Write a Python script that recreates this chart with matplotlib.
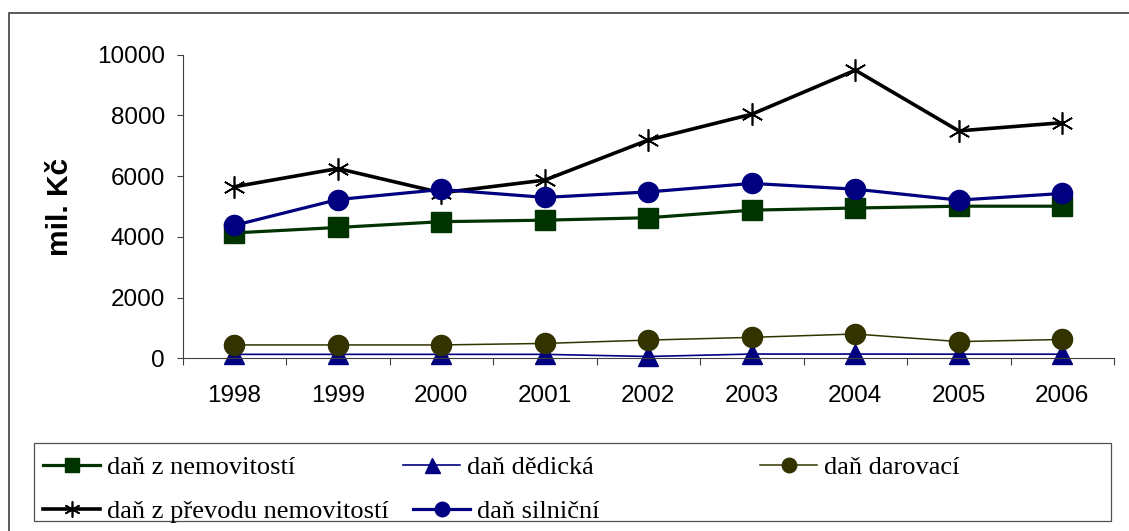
import matplotlib
matplotlib.use("Agg")
import matplotlib.pyplot as plt
from matplotlib.patches import Rectangle
from matplotlib.ticker import FixedLocator, NullFormatter, FixedFormatter

# Tax revenues in millions CZK
years = ["1998", "1999", "2000", "2001", "2002", "2003", "2004", "2005", "2006"]
dan_z_nemovitosti = [4130, 4310, 4500, 4550, 4630, 4880, 4950, 5010, 5010]
dan_dedicka = [130, 130, 130, 130, 60, 140, 140, 135, 135]
dan_darovaci = [440, 440, 440, 490, 600, 690, 800, 550, 620]
dan_z_prevodu = [5650, 6250, 5450, 5870, 7190, 8040, 9490, 7490, 7760]
dan_silnicni = [4380, 5230, 5560, 5300, 5480, 5760, 5570, 5210, 5430]

labels = ["daň z nemovitostí", "daň dědická", "daň darovací",
          "daň z převodu nemovitostí", "daň silniční"]

W, H = 1129, 531
fig = plt.figure(figsize=(W / 100, H / 100), dpi=100)
ax = fig.add_axes([182.7 / W, 1 - 358.3 / H, (1114 - 182.7) / W, (358.3 - 54.7) / H])

x = list(range(len(years)))
common = dict(clip_on=False)
series = [
    (dan_z_nemovitosti, dict(color="#003300", lw=2.3, marker="s", ms=14,
                             mfc="#003300", mec="#003300")),
    (dan_dedicka, dict(color="#000080", lw=1.2, marker="^", ms=15,
                       mfc="#000080", mec="#000080")),
    (dan_darovaci, dict(color="#333300", lw=1.1, marker="o", ms=14.5,
                        mfc="#333300", mec="#333300")),
    (dan_z_prevodu, dict(color="black", lw=2.6, marker=(6, 2, 0), ms=16,
                         mec="black", mew=1.2)),
    (dan_silnicni, dict(color="#000080", lw=2.3, marker="o", ms=14.5,
                        mfc="#000080", mec="#000080")),
]
handles = []
for (vals, style), lab in zip(series, labels):
    (h,) = ax.plot(x, vals, label=lab, **style, **common)
    handles.append(h)

ax.set_xlim(-0.5, len(years) - 0.5)
ax.set_ylim(0, 10000)
ax.set_yticks(range(0, 10001, 2000))

# category boundaries carry the tick marks, centres carry the labels
ax.xaxis.set_major_locator(FixedLocator([i - 0.5 for i in range(len(years) + 1)]))
ax.xaxis.set_major_formatter(NullFormatter())
ax.xaxis.set_minor_locator(FixedLocator(x))
ax.xaxis.set_minor_formatter(FixedFormatter(years))

for lab in ax.get_yticklabels() + ax.get_xticklabels(minor=True):
    lab.set_fontfamily("Liberation Sans")
    lab.set_fontsize(17.5)

ax.tick_params(axis="y", which="major", direction="out", length=4.3, width=0.8,
               color="#404040", pad=8.6)
ax.tick_params(axis="x", which="major", direction="out", length=5, width=0.8,
               color="#404040")
ax.tick_params(axis="x", which="minor", length=0, pad=19)

for side in ("top", "right"):
    ax.spines[side].set_visible(False)
for side in ("left", "bottom"):
    ax.spines[side].set_color("#404040")
    ax.spines[side].set_linewidth(0.8)

fig.text(60 / W, 1 - 207 / H, "mil. Kč", rotation=90, ha="center", va="center",
         fontfamily="Liberation Sans", fontweight="bold", fontsize=21.5)

# outer chart border
fig.add_artist(Rectangle((8.5 / W, -0.05), 1.2, 1 - 13 / H + 0.05,
                         transform=fig.transFigure, fill=False,
                         edgecolor="#404040", lw=1.2))

# legend frame
fig.add_artist(Rectangle((34 / W, 1 - 521 / H), (1111 - 34) / W, (521 - 443) / H,
                         transform=fig.transFigure, fill=False,
                         edgecolor="#505050", lw=0.9))

# legend entries laid out in fixed slots, row by row
slots = [(43, 467), (403, 467), (760, 467), (43, 511), (413, 511)]
for h, lab, (px, py) in zip(handles, labels, slots):
    fig.legend(handles=[h], labels=[lab], loc="center left",
               bbox_to_anchor=(px / W, 1 - py / H), frameon=False,
               borderpad=0, borderaxespad=0, handlelength=2.16,
               handletextpad=0.27, markerscale=0.72,
               prop={"family": "Liberation Serif", "size": 19})

fig.savefig("out.png", dpi=100)
